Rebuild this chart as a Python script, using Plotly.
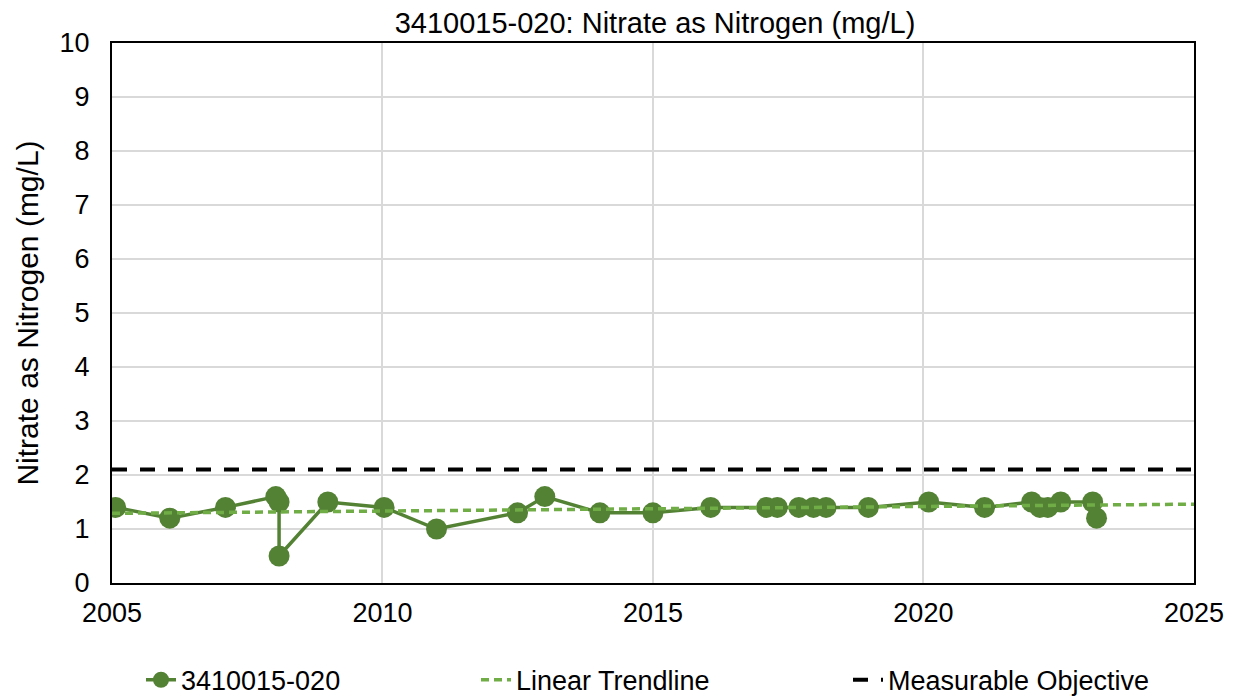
import plotly.graph_objects as go

# --- sample data ---
sample_dates = [
    "2005-01-26", "2006-01-26", "2007-02-06", "2008-01-12", "2008-02-03",
    "2008-02-03", "2008-12-28", "2010-01-12", "2011-01-01", "2012-07-01",
    "2013-01-01", "2014-01-08", "2015-01-01", "2016-01-26", "2017-02-06",
    "2017-04-20", "2017-09-12", "2017-12-20", "2018-03-15", "2018-12-25",
    "2020-02-06", "2021-02-17", "2022-01-01", "2022-02-25", "2022-04-20",
    "2022-07-16", "2023-02-17", "2023-03-15",
]
nitrate = [
    1.4, 1.2, 1.4, 1.6, 1.5,
    0.5, 1.5, 1.4, 1.0, 1.3,
    1.6, 1.3, 1.3, 1.4, 1.4,
    1.4, 1.4, 1.4, 1.4, 1.4,
    1.5, 1.4, 1.5, 1.4, 1.4,
    1.5, 1.5, 1.2,
]

trend_dates = ["2005-01-01", "2025-01-01"]
trend_vals = [1.29, 1.46]

objective_dates = ["2005-01-01", "2025-01-01"]
objective_vals = [2.1, 2.1]

year_ticks = ["2005-01-01", "2010-01-01", "2015-01-01", "2020-01-01", "2025-01-01"]
year_labels = ["2005", "2010", "2015", "2020", "2025"]

well = "3410015-020"
font = "Liberation Sans, Arial, sans-serif"

fig = go.Figure()

fig.add_trace(go.Scatter(
    x=sample_dates, y=nitrate,
    mode="lines+markers",
    name=well,
    line=dict(color="#548235", width=3.5),
    marker=dict(color="#548235", size=21),
    legend="legend",
))
fig.add_trace(go.Scatter(
    x=trend_dates, y=trend_vals,
    mode="lines",
    name="Linear Trendline",
    line=dict(color="#70ad47", width=3.5, dash="8px,5px"),
    legend="legend2",
))
fig.add_trace(go.Scatter(
    x=objective_dates, y=objective_vals,
    mode="lines",
    name="Measurable Objective",
    line=dict(color="black", width=4, dash="15px,13px"),
    legend="legend3",
))

# the page body adds an 8px offset, so the figure is drawn 8px smaller
# plot area spans 112..1194 px horizontally on screen
def px_x(px):
    return (px - 112) / 1082

legend_common = dict(
    orientation="h", yanchor="middle", y=-0.18,
    font=dict(size=27), bgcolor="rgba(0,0,0,0)", itemwidth=30,
)

fig.update_layout(
    width=1230, height=690,
    margin=dict(l=104, r=44, t=35, b=115, autoexpand=False),
    paper_bgcolor="white",
    plot_bgcolor="white",
    font=dict(family=font, size=27, color="black"),
    title=dict(
        text=f"{well}: Nitrate as Nitrogen (mg/L)",
        x=px_x(655), xanchor="center", xref="paper",
        y=0.979, yanchor="middle",
        font=dict(size=29),
    ),
    showlegend=True,
    legend=dict(x=px_x(141), xanchor="left", **legend_common),
    legend2=dict(x=px_x(476), xanchor="left", **legend_common),
    legend3=dict(x=px_x(848), xanchor="left", **legend_common),
    xaxis=dict(
        type="date",
        range=["2005-01-01", "2025-01-01"],
        tickvals=year_ticks,
        ticktext=year_labels,
        showgrid=True, gridcolor="#d9d9d9", gridwidth=2,
        showline=True, linecolor="black", linewidth=2, mirror=True,
        ticks="outside", ticklen=5, tickcolor="rgba(0,0,0,0)",
        tickfont=dict(size=27),
        automargin=False,
    ),
    yaxis=dict(
        range=[0, 10],
        dtick=1,
        showgrid=True, gridcolor="#d9d9d9", gridwidth=2,
        showline=True, linecolor="black", linewidth=2, mirror=True,
        zeroline=False,
        ticks="outside", ticklen=15, tickcolor="rgba(0,0,0,0)",
        tickfont=dict(size=27),
        title=dict(text="Nitrate as Nitrogen (mg/L)", font=dict(size=30), standoff=12),
        automargin=False,
    ),
)

fig.write_html("out.html")
